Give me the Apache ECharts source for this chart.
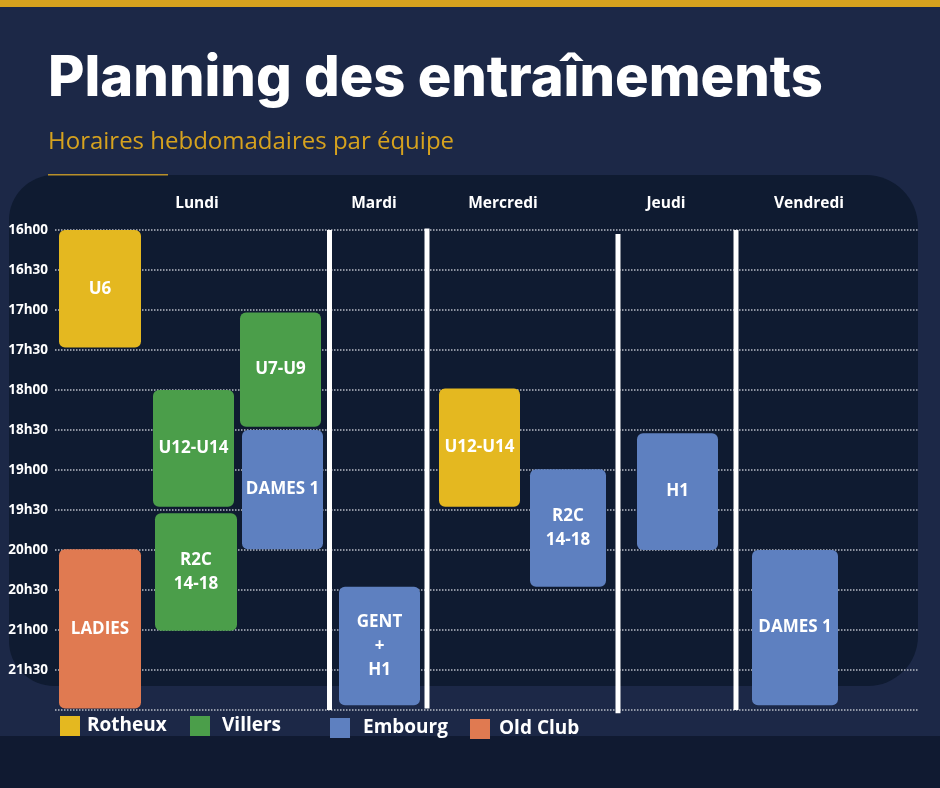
<!DOCTYPE html>
<html>
<head>
<meta charset="utf-8">
<script src="https://cdn.jsdelivr.net/npm/echarts@6/dist/echarts.min.js"></script>
<style>
  html, body { margin: 0; padding: 0; background: #1c2847; }
  #chart { width: 940px; height: 788px; }
</style>
</head>
<body>
<div id="chart"></div>
<script>
// time axis (hours, half-hour steps) and day headers
const timeMin = 16;
const timeMax = 22;
const days = ['Lundi', 'Mardi', 'Mercredi', 'Jeudi', 'Vendredi'];
const dayPos = [14.2, 31.9, 44.8, 61.1, 75.4];

// white separators between days: slot position, start time, end time
const sepPos = [27.45, 37.2, 56.3, 68.1];
const sepStart = [16.0, 15.98, 16.05, 16.0];
const sepEnd = [22.0, 21.98, 22.04, 22.0];

// blocks per club: [label, slot start, slot end, start time, end time]
const rotheux = [
  ['U6', 0.4, 8.6, 16.0, 17.47],
  ['U12-U14', 38.4, 46.5, 17.98, 19.46]
];
const villers = [
  ['U7-U9', 18.5, 26.6, 17.03, 18.46],
  ['U12-U14', 9.8, 17.9, 18.0, 19.46],
  ['R2C\n14-18', 10.0, 18.2, 19.54, 21.01]
];
const embourg = [
  ['DAMES 1', 18.7, 26.8, 18.5, 19.99],
  ['GENT\n+\nH1', 28.4, 36.5, 20.46, 21.94],
  ['R2C\n14-18', 47.5, 55.1, 18.99, 20.46],
  ['H1', 58.2, 66.3, 18.54, 20.0],
  ['DAMES 1', 69.7, 78.3, 20.0, 21.94]
];
const oldClub = [
  ['LADIES', 0.4, 8.6, 19.99, 21.98]
];

const clubs = ['Rotheux', 'Villers', 'Embourg', 'Old Club'];
const clubColors = ['#e4b820', '#4b9e4a', '#5e80c0', '#e07a51'];
const clubData = [rotheux, villers, embourg, oldClub];

const chart = echarts.init(document.getElementById('chart'));

function renderBlock(params, api) {
  const p0 = api.coord([api.value(1), api.value(3)]);
  const p1 = api.coord([api.value(2), api.value(4)]);
  return {
    type: 'rect',
    shape: { x: p0[0], y: p0[1], width: p1[0] - p0[0], height: p1[1] - p0[1], r: 6 },
    style: { fill: api.visual('color') },
    textContent: {
      style: {
        text: api.value(0),
        fill: '#ffffff',
        font: 'bold 17px "Open Sans"',
        align: 'center',
        lineHeight: 24
      }
    },
    textConfig: { position: 'inside' }
  };
}

const blockSeries = clubs.map((name, i) => ({
  name: name,
  type: 'custom',
  renderItem: renderBlock,
  itemStyle: { color: clubColors[i] },
  encode: { x: [1, 2], y: [3, 4] },
  data: clubData[i],
  z: 5
}));

const sepSeries = {
  name: 'sep',
  type: 'custom',
  silent: true,
  clip: false,
  renderItem: function (params, api) {
    const a = api.coord([api.value(0), api.value(1)]);
    const b = api.coord([api.value(0), api.value(2)]);
    return {
      type: 'rect',
      shape: { x: a[0] - 2.5, y: a[1], width: 5, height: b[1] - a[1] },
      style: { fill: '#ffffff' }
    };
  },
  encode: { x: 0, y: [1, 2] },
  data: sepPos.map((x, i) => [x, sepStart[i], sepEnd[i]]),
  z: 4
};

const daySeries = {
  name: 'days',
  type: 'custom',
  silent: true,
  clip: false,
  renderItem: function (params, api) {
    const p = api.coord([api.value(0), timeMin]);
    return {
      type: 'text',
      style: {
        x: p[0], y: p[1] - 26,
        text: days[params.dataIndex],
        fill: '#ffffff',
        font: 'bold 15.5px "Open Sans"',
        align: 'center',
        verticalAlign: 'middle'
      }
    };
  },
  encode: { x: 0 },
  data: dayPos.map((x) => [x]),
  z: 4
};

function legendFor(name, left, top, gap) {
  return {
    data: [name],
    left: left,
    top: top,
    padding: 0,
    icon: 'rect',
    itemWidth: 20,
    itemHeight: 20,
    selectedMode: false,
    textStyle: { color: '#ffffff', fontSize: 19, fontWeight: 'bold', fontFamily: 'Open Sans', padding: [0, 0, 0, gap] }
  };
}

const option = {
  backgroundColor: '#1c2847',
  animation: false,
  graphic: [
    { type: 'rect', z: -10, shape: { x: 0, y: 0, width: 940, height: 7 }, style: { fill: '#d6a21e' } },
    { type: 'rect', z: -10, shape: { x: 9, y: 175, width: 909, height: 511, r: [45, 52, 50, 45] }, style: { fill: '#0f1b31' } },
    { type: 'rect', z: -10, shape: { x: 0, y: 736, width: 940, height: 52 }, style: { fill: '#101a31' } },
    { type: 'rect', z: -9, shape: { x: 48, y: 174, width: 120, height: 1.5 }, style: { fill: '#b8902a' } },
    {
      type: 'text', z: 10,
      style: { x: 48, y: 79, text: 'Planning des entraînements', fill: '#ffffff',
        font: '800 56px Inter', verticalAlign: 'middle' }
    },
    {
      type: 'text', z: 10,
      style: { x: 48, y: 142, text: 'Horaires hebdomadaires par équipe', fill: '#d6a21e',
        font: '24px "Open Sans"', verticalAlign: 'middle' }
    }
  ],
  grid: { left: 55, right: 21, top: 230, bottom: 78 },
  xAxis: {
    type: 'value', min: 0, max: 86.4,
    axisLine: { show: false }, axisTick: { show: false },
    axisLabel: { show: false }, splitLine: { show: false }
  },
  yAxis: {
    type: 'value', min: timeMin, max: timeMax, interval: 0.5, inverse: true,
    axisLine: { show: false }, axisTick: { show: false },
    axisLabel: {
      color: '#ffffff', fontSize: 13.5, fontWeight: 'bold', fontFamily: 'Open Sans', margin: 7,
      formatter: function (v) {
        if (v >= timeMax) return '';
        return Math.floor(v) + 'h' + (v % 1 ? '30' : '00');
      }
    },
    splitLine: { show: true, lineStyle: { color: '#b9bec8', width: 1.5, type: [1.5, 1.5] } }
  },
  legend: [
    legendFor('Rotheux', 60, 716, 2),
    legendFor('Villers', 190, 716, 7),
    legendFor('Embourg', 330, 718, 8),
    legendFor('Old Club', 470, 719, 4)
  ],
  series: blockSeries.concat([sepSeries, daySeries])
};

chart.setOption(option);
</script>
</body>
</html>
